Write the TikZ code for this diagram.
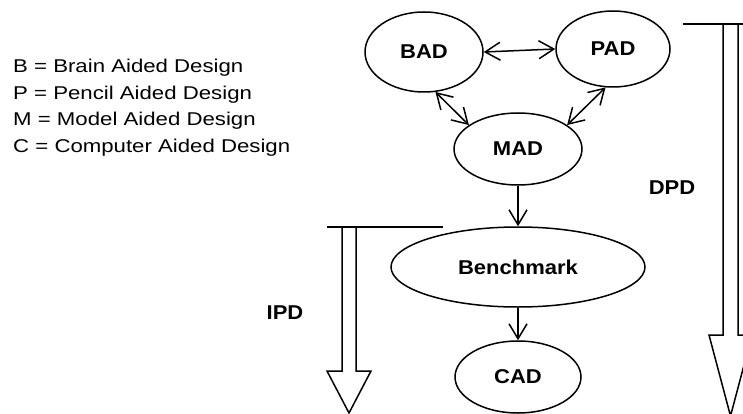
\documentclass[tikz,border=0pt]{standalone}
\usepackage{fontspec}
\setmainfont{Liberation Sans}
\newfontfamily\legendfont[FakeStretch=1.2]{Liberation Sans}
\newfontfamily\labelfont[FakeStretch=1.1]{Liberation Sans Bold}
\usetikzlibrary{shapes.geometric,arrows.meta}
\tikzset{vhead/.tip={Straight Barb[length=15pt,width=18pt,line width=1.5pt]}}
\begin{document}
\begin{tikzpicture}[x=1pt,y=-1pt,
  oval/.style={draw,ellipse,line width=1.5pt,inner sep=0pt,font=\labelfont\fontsize{20}{24}\selectfont},
  conn/.style={line width=1.5pt},
  legend/.style={anchor=base west,inner sep=0pt,font=\legendfont\fontsize{18.5}{22}\selectfont},
  tag/.style={inner sep=0pt,font=\labelfont\fontsize{20}{24}\selectfont},
  hollow/.style={draw,line width=1.5pt,line join=miter}]
\useasboundingbox (0,0) rectangle (743,414);
% legend
\node[legend] (l1) at (13,72.5) {B = Brain Aided Design};
\node[legend] (l2) at (13,99.1) {P = Pencil Aided Design};
\node[legend] (l3) at (13,125.7) {M = Model Aided Design};
\node[legend] (l4) at (13,152.3) {C = Computer Aided Design};
% nodes
\node[oval,minimum width=118pt,minimum height=80pt] (bad) at (424,52) {BAD};
\node[oval,minimum width=114pt,minimum height=76pt] (pad) at (613,49) {PAD};
\node[oval,minimum width=128pt,minimum height=72pt] (mad) at (518,149) {MAD};
\node[oval,minimum width=254pt,minimum height=80pt] (bench) at (518,267) {Benchmark};
\node[oval,minimum width=126pt,minimum height=72pt] (cad) at (518,377) {CAD};
% connectors
\draw[conn,vhead-vhead] (bad.east) -- (pad.west);
\draw[conn,vhead-vhead] (bad.-74) -- (mad.154);
\draw[conn,vhead-vhead] (pad.-101) -- (mad.26);
\draw[conn,-vhead] (mad.south) -- (bench.north);
\draw[conn,-vhead] (bench.south) -- (cad.north);
% IPD hollow arrow
\coordinate (ipdL) at (327,227);
\coordinate (ipdR) at (443,227);
\draw[conn] (ipdL) -- (ipdR);
\draw[hollow] (342,227) -- (342,371) -- (327,371) -- (349,413) -- (371,371) -- (356,371) -- (356,227);
\node[tag] (ipd) at (285,313) {IPD};
% DPD hollow arrow
\coordinate (dpdL) at (683,24);
\coordinate (dpdR) at (745,24);
\draw[conn] (dpdL) -- (dpdR);
\draw[hollow] (723,24) -- (723,335) -- (709,335) -- (730.5,416) -- (752,335) -- (738,335) -- (738,24);
\node[tag] (dpd) at (672,188) {DPD};
\end{tikzpicture}
\end{document}
